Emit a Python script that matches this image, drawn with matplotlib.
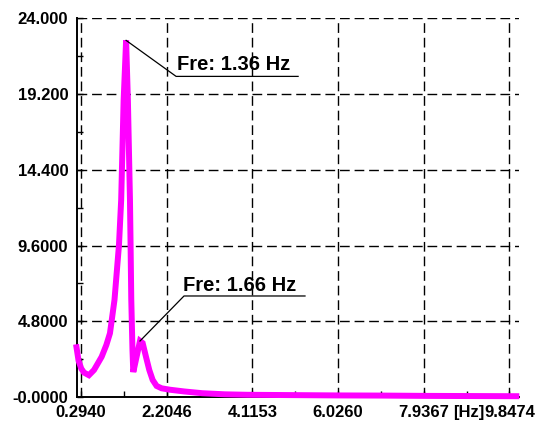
import numpy as np
import matplotlib.pyplot as plt

# spectrum
freq = [0.194, 0.24, 0.30, 0.36, 0.47, 0.584, 0.755, 0.86, 0.94, 1.041, 1.141,
        1.19, 1.245, 1.30, 1.34, 1.386, 1.40, 1.415, 1.442, 1.46, 1.61, 1.669,
        1.743, 1.817, 1.892, 1.98, 2.093, 2.28, 2.6, 3.0, 3.5, 4.0, 5.0, 6.0,
        7.0, 8.0, 9.0, 10.0]
amp = [3.15, 2.3, 1.8, 1.55, 1.38, 1.71, 2.55, 3.3, 4.04, 6.15, 9.63,
       12.48, 18.8, 22.6, 18.8, 12.5, 9.6, 6.2, 2.98, 1.58, 3.55, 3.42,
       2.55, 1.71, 1.08, 0.70, 0.55, 0.46, 0.35, 0.24, 0.17, 0.14, 0.12, 0.1,
       0.09, 0.07, 0.06, 0.05]

x_ticks = [0.2940, 2.2046, 4.1153, 6.0260, 7.9367, 9.8474]
x_labels = ['0.2940', '2.2046', '4.1153', '6.0260', '7.9367', '9.8474']
y_ticks = [0.0, 4.8, 9.6, 14.4, 19.2, 24.0]
y_labels = ['-0.0000', '4.8000', '9.6000', '14.400', '19.200', '24.000']

peak_labels = ['Fre: 1.36 Hz', 'Fre: 1.66 Hz']
peak_idx = [13, 20]
# (elbow dx, dy), line end dx, text dx/dy   -- in pixels
peak_offsets = [((50, -36), 172, (51, -30)), ((44, 45), 165, (43, 50))]

fig = plt.figure(figsize=(5.45, 4.23), dpi=100)
ax = fig.add_axes([76.5 / 545, 26 / 423, 442.5 / 545, 378.7 / 423])

ax.plot(freq, amp, color='#ff00ff', lw=4.3, clip_on=False, zorder=3,
        solid_joinstyle='miter')

ax.set_xlim(0.194, 10.06)
ax.set_ylim(0, 24)

ax.set_xticks(x_ticks)
ax.set_xticklabels(x_labels)
ax.set_yticks(y_ticks)
ax.set_yticklabels(y_labels)
mx = [(x_ticks[i] + x_ticks[i + 1]) / 2 for i in range(len(x_ticks) - 1)]
my = [(y_ticks[i] + y_ticks[i + 1]) / 2 for i in range(len(y_ticks) - 1)]
ax.set_xticks(mx, minor=True)
ax.set_yticks(my, minor=True)

for lab in ax.get_xticklabels() + ax.get_yticklabels():
    lab.set_fontfamily('Liberation Sans')
    lab.set_fontweight('bold')
    lab.set_fontsize(12)
ax.tick_params(which='both', direction='in', length=4, width=1, color='black', pad=6)

ax.grid(True, which='major', color='black', lw=1, linestyle=(0, (7, 3.5)))
ax.set_axisbelow(True)
for s in ['top', 'right']:
    ax.spines[s].set_visible(False)
for s in ['left', 'bottom']:
    ax.spines[s].set_linewidth(1.4)

# [Hz] unit between the last two tick labels
ax.annotate('[Hz]', xy=(8.943, 0), xycoords=('data', 'axes fraction'),
            xytext=(0, -6), textcoords='offset points', ha='center', va='top',
            fontsize=12, fontweight='bold', family='Liberation Sans')

# peak annotations
inv = ax.transData.inverted()
for lab, i, (elb, end_dx, txt) in zip(peak_labels, peak_idx, peak_offsets):
    p = ax.transData.transform((freq[i], amp[i]))
    pts = [p, p + np.array(elb), p + np.array([end_dx, elb[1]])]
    pts = inv.transform(np.array(pts))
    ax.plot(pts[:, 0], pts[:, 1], color='black', lw=0.9, clip_on=False, zorder=4)
    t = inv.transform(p + np.array(txt))
    ax.text(t[0], t[1], lab, ha='left', va='baseline', fontsize=14.5,
            fontweight='bold', family='Liberation Sans', zorder=5)

fig.savefig('out.png', dpi=100)
